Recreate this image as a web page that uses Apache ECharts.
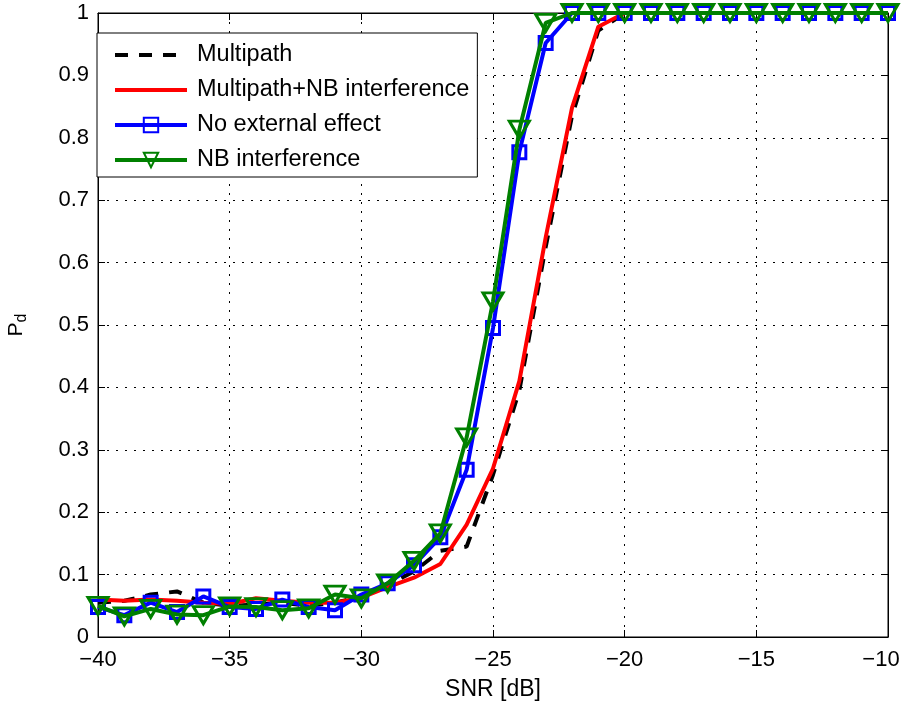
<!DOCTYPE html>
<html>
<head>
<meta charset="utf-8">
<script src="https://cdn.jsdelivr.net/npm/echarts@6/dist/echarts.min.js"></script>
<style>
  html, body { margin: 0; padding: 0; background: #fff; }
  #lineChart { width: 904px; height: 704px; }
</style>
</head>
<body>
<div id="lineChart"></div>
<script>
// SNR points (dB)
var snr = [];
for (var s = -40; s <= -10; s++) snr.push(s);

var multipath = [0.055, 0.058, 0.068, 0.073, 0.055, 0.05, 0.052, 0.055, 0.05, 0.055,
  0.065, 0.083, 0.105, 0.138, 0.145, 0.26, 0.395, 0.625, 0.835, 0.972,
  1, 1, 1, 1, 1, 1, 1, 1, 1, 1, 1];
var multipathNB = [0.06, 0.058, 0.06, 0.058, 0.055, 0.053, 0.062, 0.058, 0.055, 0.055,
  0.063, 0.08, 0.095, 0.117, 0.18, 0.27, 0.41, 0.64, 0.848, 0.978,
  1, 1, 1, 1, 1, 1, 1, 1, 1, 1, 1];
var noEffect = [0.048, 0.035, 0.055, 0.04, 0.065, 0.048, 0.045, 0.06, 0.048, 0.043,
  0.068, 0.086, 0.115, 0.16, 0.268, 0.495, 0.777, 0.952, 1, 1,
  1, 1, 1, 1, 1, 1, 1, 1, 1, 1, 1];
var nbInterf = [0.05, 0.033, 0.045, 0.036, 0.035, 0.049, 0.048, 0.043, 0.046, 0.068,
  0.062, 0.086, 0.122, 0.166, 0.32, 0.538, 0.813, 0.984, 1, 1,
  1, 1, 1, 1, 1, 1, 1, 1, 1, 1, 1];

var seriesNames = ['Multipath', 'Multipath+NB interference', 'No external effect', 'NB interference'];

function pairs(arr) {
  return arr.map(function (v, i) { return [snr[i], v]; });
}

var font = 'Liberation Sans, Arial, Helvetica, sans-serif';
var gridLine = { show: true, lineStyle: { color: '#000', type: [2, 7], width: 1 } };

var chart = echarts.init(document.getElementById('lineChart'));
chart.setOption({
  animation: false,
  backgroundColor: '#fff',
  textStyle: { fontFamily: font },
  grid: {
    left: 98, right: 16, top: 13, bottom: 67,
    outerBoundsMode: 'none', containLabel: false,
    show: true, borderColor: '#000', borderWidth: 1
  },
  legend: {
    data: [
      { name: seriesNames[0], itemStyle: { opacity: 0 }, lineStyle: { width: 4 } },
      { name: seriesNames[1], itemStyle: { opacity: 0 }, lineStyle: { width: 4 } },
      { name: seriesNames[2], lineStyle: { width: 4 } },
      { name: seriesNames[3], lineStyle: { width: 4 } }
    ],
    orient: 'vertical',
    left: 97,
    top: 33,
    padding: [10, 8, 5, 16],
    itemGap: 11,
    itemWidth: 72,
    itemHeight: 18,
    backgroundColor: '#fff',
    borderColor: '#000',
    borderWidth: 1,
    borderRadius: 0,
    textStyle: { fontSize: 23.5, color: '#000', fontFamily: font, padding: [0, 0, 0, 5] }
  },
  xAxis: [{
    type: 'value',
    min: -40, max: -10, interval: 5,
    name: 'SNR [dB]',
    nameLocation: 'middle',
    nameGap: 41,
    nameTextStyle: { fontSize: 23, color: '#000' },
    axisLine: { onZero: false, lineStyle: { color: '#000' } },
    axisTick: { inside: true, length: 7, lineStyle: { color: '#000' } },
    axisLabel: {
      fontSize: 22, color: '#000', margin: 12,
      formatter: function (v) {
        var t = v < 0 ? '\u2212' + Math.abs(v) : String(v);
        return v === -10 ? '{last|' + t + '}' : t;
      },
      rich: { last: { fontSize: 22, color: '#000', padding: [0, 14, 0, 0] } }
    },
    splitLine: gridLine
  }, {
    type: 'value', position: 'top',
    min: -40, max: -10, interval: 5,
    axisLine: { onZero: false, lineStyle: { color: '#000' } },
    axisTick: { inside: true, length: 7, lineStyle: { color: '#000' } },
    axisLabel: { show: false },
    splitLine: { show: false }
  }],
  yAxis: [{
    type: 'value',
    min: 0, max: 1, interval: 0.1,
    name: 'P{sub|d}',
    nameLocation: 'middle',
    nameGap: 68,
    nameTextStyle: {
      fontSize: 21, color: '#000',
      rich: { sub: { fontSize: 16, verticalAlign: 'bottom', padding: [12, 0, 0, 0] } }
    },
    axisLine: { lineStyle: { color: '#000' } },
    axisTick: { inside: true, length: 7, lineStyle: { color: '#000' } },
    axisLabel: { fontSize: 22, color: '#000', margin: 9 },
    splitLine: gridLine
  }, {
    type: 'value', position: 'right',
    min: 0, max: 1, interval: 0.1,
    axisLine: { show: true, lineStyle: { color: '#000' } },
    axisTick: { show: true, inside: true, length: 7, lineStyle: { color: '#000' } },
    axisLabel: { show: false },
    splitLine: { show: false }
  }],
  series: [
    {
      name: seriesNames[0],
      type: 'line',
      data: pairs(multipath),
      symbol: 'none',
      color: '#000',
      lineStyle: { color: '#000', width: 4, type: [13, 11] },
      z: 2
    },
    {
      name: seriesNames[1],
      type: 'line',
      data: pairs(multipathNB),
      symbol: 'none',
      color: '#ff0000',
      lineStyle: { color: '#ff0000', width: 4 },
      z: 3
    },
    {
      name: seriesNames[2],
      type: 'line',
      data: pairs(noEffect),
      symbol: 'rect',
      symbolSize: 13,
      color: '#0000ff',
      lineStyle: { color: '#0000ff', width: 4 },
      itemStyle: { color: 'rgba(255,255,255,0)', borderColor: '#0000ff', borderWidth: 3 },
      z: 4
    },
    {
      name: seriesNames[3],
      type: 'line',
      data: pairs(nbInterf),
      symbol: 'triangle',
      symbolRotate: 180,
      symbolSize: [20, 17],
      color: '#008000',
      lineStyle: { color: '#008000', width: 4 },
      itemStyle: { color: 'rgba(255,255,255,0)', borderColor: '#008000', borderWidth: 3 },
      z: 5
    }
  ]
});
</script>
</body>
</html>
